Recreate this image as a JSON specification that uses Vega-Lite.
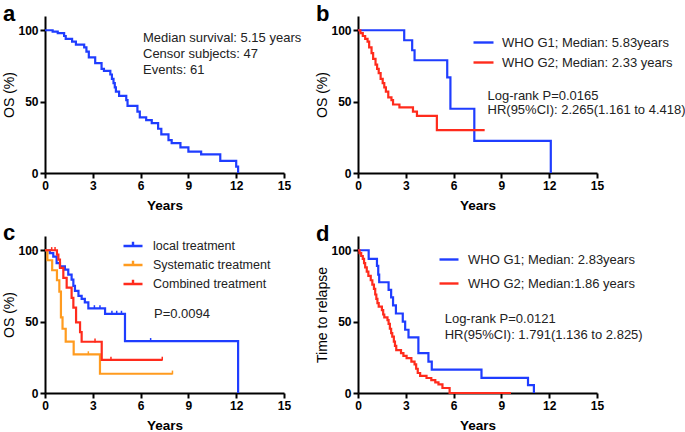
{
  "$schema": "https://vega.github.io/schema/vega-lite/v6.json",
  "padding": {"left": 2, "top": 3, "right": 0, "bottom": 0},
  "background": "white",
  "config": {
    "font": "Liberation Sans",
    "view": {"stroke": null},
    "axis": {"domainColor": "black", "domainWidth": 2, "tickColor": "black", "tickWidth": 2, "tickSize": 5, "grid": false, "labelFont": "Liberation Sans", "labelFontWeight": "bold", "labelFontSize": 12, "labelColor": "black", "titleColor": "black", "titleFont": "Liberation Sans", "labelPadding": 2, "labelFlush": false},
    "axisX": {"titleFontWeight": "bold", "titleFontSize": 13.5, "titlePadding": 7},
    "axisY": {"titleFontWeight": "normal", "titleFontSize": 14, "titlePadding": 1},
    "title": {"fontSize": 22, "fontWeight": "bold", "anchor": "start", "frame": "bounds", "color": "black", "font": "Liberation Sans", "offset": -10},
    "text": {"font": "Liberation Sans", "fontSize": 13, "color": "#222222", "align": "left", "baseline": "alphabetic"},
    "legend": {"labelFont": "Liberation Sans", "labelFontSize": 13, "labelColor": "#222222", "labelLimit": 0, "padding": 0, "symbolStrokeWidth": 2.4, "symbolType": "stroke", "orient": "none"}
  },
  "datasets": {
    "a": [
      {"time": 0, "os": 100}, {"time": 0.48, "os": 99}, {"time": 0.8, "os": 98}, {"time": 1.2, "os": 96}, {"time": 1.3, "os": 94}, {"time": 1.7, "os": 92}, {"time": 1.94, "os": 90}, {"time": 2.46, "os": 88}, {"time": 2.6, "os": 85}, {"time": 2.75, "os": 81}, {"time": 3.15, "os": 77}, {"time": 3.55, "os": 73}, {"time": 3.7, "os": 71.5}, {"time": 4.1, "os": 69}, {"time": 4.2, "os": 66}, {"time": 4.3, "os": 63}, {"time": 4.38, "os": 60}, {"time": 4.45, "os": 57}, {"time": 4.65, "os": 54}, {"time": 5.1, "os": 51}, {"time": 5.18, "os": 47}, {"time": 5.8, "os": 43}, {"time": 5.95, "os": 39}, {"time": 6.35, "os": 37}, {"time": 6.7, "os": 35}, {"time": 7.1, "os": 31}, {"time": 7.3, "os": 27}, {"time": 7.75, "os": 23}, {"time": 7.95, "os": 21}, {"time": 8.5, "os": 18}, {"time": 9.0, "os": 15}, {"time": 9.8, "os": 13}, {"time": 11.0, "os": 8.5}, {"time": 12.0, "os": 4.5}, {"time": 12.12, "os": 0}
    ],
    "b": [
      {"group": "WHO G1; Median: 5.83years", "time": 0, "os": 100}, {"group": "WHO G1; Median: 5.83years", "time": 2.9, "os": 93}, {"group": "WHO G1; Median: 5.83years", "time": 3.4, "os": 86}, {"group": "WHO G1; Median: 5.83years", "time": 3.55, "os": 79}, {"group": "WHO G1; Median: 5.83years", "time": 5.6, "os": 67}, {"group": "WHO G1; Median: 5.83years", "time": 5.8, "os": 45}, {"group": "WHO G1; Median: 5.83years", "time": 7.3, "os": 22.5}, {"group": "WHO G1; Median: 5.83years", "time": 12.1, "os": 0},
      {"group": "WHO G2; Median: 2.33 years", "time": 0, "os": 100}, {"group": "WHO G2; Median: 2.33 years", "time": 0.15, "os": 98}, {"group": "WHO G2; Median: 2.33 years", "time": 0.3, "os": 96}, {"group": "WHO G2; Median: 2.33 years", "time": 0.45, "os": 94}, {"group": "WHO G2; Median: 2.33 years", "time": 0.6, "os": 92}, {"group": "WHO G2; Median: 2.33 years", "time": 0.7, "os": 88}, {"group": "WHO G2; Median: 2.33 years", "time": 0.85, "os": 84}, {"group": "WHO G2; Median: 2.33 years", "time": 0.95, "os": 80}, {"group": "WHO G2; Median: 2.33 years", "time": 1.1, "os": 76}, {"group": "WHO G2; Median: 2.33 years", "time": 1.2, "os": 73}, {"group": "WHO G2; Median: 2.33 years", "time": 1.3, "os": 70}, {"group": "WHO G2; Median: 2.33 years", "time": 1.42, "os": 66}, {"group": "WHO G2; Median: 2.33 years", "time": 1.55, "os": 63}, {"group": "WHO G2; Median: 2.33 years", "time": 1.65, "os": 60}, {"group": "WHO G2; Median: 2.33 years", "time": 1.75, "os": 57}, {"group": "WHO G2; Median: 2.33 years", "time": 1.9, "os": 53}, {"group": "WHO G2; Median: 2.33 years", "time": 2.1, "os": 51}, {"group": "WHO G2; Median: 2.33 years", "time": 2.2, "os": 48}, {"group": "WHO G2; Median: 2.33 years", "time": 2.6, "os": 46}, {"group": "WHO G2; Median: 2.33 years", "time": 3.45, "os": 43}, {"group": "WHO G2; Median: 2.33 years", "time": 3.7, "os": 40}, {"group": "WHO G2; Median: 2.33 years", "time": 4.95, "os": 30}, {"group": "WHO G2; Median: 2.33 years", "time": 7.95, "os": 30}
    ],
    "c": [
      {"group": "local treatment", "time": 0, "os": 100}, {"group": "local treatment", "time": 0.3, "os": 98}, {"group": "local treatment", "time": 0.52, "os": 95.5}, {"group": "local treatment", "time": 0.73, "os": 91}, {"group": "local treatment", "time": 0.94, "os": 88.7}, {"group": "local treatment", "time": 1.25, "os": 86.4}, {"group": "local treatment", "time": 1.46, "os": 83}, {"group": "local treatment", "time": 1.67, "os": 79.5}, {"group": "local treatment", "time": 1.78, "os": 75}, {"group": "local treatment", "time": 1.88, "os": 71.5}, {"group": "local treatment", "time": 2.1, "os": 68}, {"group": "local treatment", "time": 2.3, "os": 66}, {"group": "local treatment", "time": 2.5, "os": 63.5}, {"group": "local treatment", "time": 2.72, "os": 59.3}, {"group": "local treatment", "time": 3.77, "os": 55.4}, {"group": "local treatment", "time": 5.02, "os": 36.3}, {"group": "local treatment", "time": 12.12, "os": 0},
      {"group": "Systematic treatment", "time": 0, "os": 100}, {"group": "Systematic treatment", "time": 0.15, "os": 93}, {"group": "Systematic treatment", "time": 0.45, "os": 86}, {"group": "Systematic treatment", "time": 0.75, "os": 79}, {"group": "Systematic treatment", "time": 0.9, "os": 71}, {"group": "Systematic treatment", "time": 1.0, "os": 53}, {"group": "Systematic treatment", "time": 1.1, "os": 45}, {"group": "Systematic treatment", "time": 1.3, "os": 36}, {"group": "Systematic treatment", "time": 1.8, "os": 27}, {"group": "Systematic treatment", "time": 3.45, "os": 13.5}, {"group": "Systematic treatment", "time": 8.0, "os": 13.5},
      {"group": "Combined treatment", "time": 0, "os": 100}, {"group": "Combined treatment", "time": 0.75, "os": 97}, {"group": "Combined treatment", "time": 0.84, "os": 93.4}, {"group": "Combined treatment", "time": 0.94, "os": 87.6}, {"group": "Combined treatment", "time": 1.15, "os": 80.7}, {"group": "Combined treatment", "time": 1.36, "os": 73.8}, {"group": "Combined treatment", "time": 1.67, "os": 66.7}, {"group": "Combined treatment", "time": 1.78, "os": 59.8}, {"group": "Combined treatment", "time": 1.95, "os": 49.5}, {"group": "Combined treatment", "time": 2.2, "os": 42.7}, {"group": "Combined treatment", "time": 2.3, "os": 35.9}, {"group": "Combined treatment", "time": 3.56, "os": 23.2}, {"group": "Combined treatment", "time": 7.36, "os": 23.2}
    ],
    "cCensor": [
      {"group": "local treatment", "time": 3.1, "os": 59.3}, {"group": "local treatment", "time": 3.45, "os": 59.3}, {"group": "local treatment", "time": 4.2, "os": 55.4}, {"group": "local treatment", "time": 4.5, "os": 55.4}, {"group": "local treatment", "time": 4.8, "os": 55.4}, {"group": "local treatment", "time": 6.63, "os": 36.3},
      {"group": "Systematic treatment", "time": 2.72, "os": 27}, {"group": "Systematic treatment", "time": 8.0, "os": 13.5},
      {"group": "Combined treatment", "time": 0.42, "os": 100}, {"group": "Combined treatment", "time": 0.63, "os": 100}, {"group": "Combined treatment", "time": 3.14, "os": 35.9}, {"group": "Combined treatment", "time": 4.14, "os": 23.2}, {"group": "Combined treatment", "time": 7.36, "os": 23.2}
    ],
    "d": [
      {"group": "WHO G1; Median: 2.83years", "time": 0, "os": 100}, {"group": "WHO G1; Median: 2.83years", "time": 0.67, "os": 94}, {"group": "WHO G1; Median: 2.83years", "time": 1.19, "os": 89}, {"group": "WHO G1; Median: 2.83years", "time": 1.27, "os": 83}, {"group": "WHO G1; Median: 2.83years", "time": 1.33, "os": 77.6}, {"group": "WHO G1; Median: 2.83years", "time": 1.92, "os": 72.3}, {"group": "WHO G1; Median: 2.83years", "time": 2.08, "os": 67}, {"group": "WHO G1; Median: 2.83years", "time": 2.2, "os": 61.4}, {"group": "WHO G1; Median: 2.83years", "time": 2.38, "os": 55.7}, {"group": "WHO G1; Median: 2.83years", "time": 2.81, "os": 50}, {"group": "WHO G1; Median: 2.83years", "time": 2.96, "os": 44.3}, {"group": "WHO G1; Median: 2.83years", "time": 3.17, "os": 39}, {"group": "WHO G1; Median: 2.83years", "time": 3.79, "os": 28}, {"group": "WHO G1; Median: 2.83years", "time": 4.42, "os": 22}, {"group": "WHO G1; Median: 2.83years", "time": 4.63, "os": 16.4}, {"group": "WHO G1; Median: 2.83years", "time": 7.75, "os": 10.6}, {"group": "WHO G1; Median: 2.83years", "time": 10.67, "os": 5.5}, {"group": "WHO G1; Median: 2.83years", "time": 11.04, "os": 0},
      {"group": "WHO G2; Median:1.86 years", "time": 0, "os": 100}, {"group": "WHO G2; Median:1.86 years", "time": 0.1, "os": 98}, {"group": "WHO G2; Median:1.86 years", "time": 0.2, "os": 96}, {"group": "WHO G2; Median:1.86 years", "time": 0.3, "os": 94}, {"group": "WHO G2; Median:1.86 years", "time": 0.38, "os": 91}, {"group": "WHO G2; Median:1.86 years", "time": 0.45, "os": 88}, {"group": "WHO G2; Median:1.86 years", "time": 0.55, "os": 85}, {"group": "WHO G2; Median:1.86 years", "time": 0.65, "os": 82}, {"group": "WHO G2; Median:1.86 years", "time": 0.8, "os": 79}, {"group": "WHO G2; Median:1.86 years", "time": 0.9, "os": 76}, {"group": "WHO G2; Median:1.86 years", "time": 1.0, "os": 73}, {"group": "WHO G2; Median:1.86 years", "time": 1.08, "os": 69}, {"group": "WHO G2; Median:1.86 years", "time": 1.15, "os": 66}, {"group": "WHO G2; Median:1.86 years", "time": 1.22, "os": 63}, {"group": "WHO G2; Median:1.86 years", "time": 1.3, "os": 60.5}, {"group": "WHO G2; Median:1.86 years", "time": 1.5, "os": 58}, {"group": "WHO G2; Median:1.86 years", "time": 1.58, "os": 55}, {"group": "WHO G2; Median:1.86 years", "time": 1.65, "os": 53}, {"group": "WHO G2; Median:1.86 years", "time": 1.85, "os": 51}, {"group": "WHO G2; Median:1.86 years", "time": 1.92, "os": 48.5}, {"group": "WHO G2; Median:1.86 years", "time": 2.0, "os": 45}, {"group": "WHO G2; Median:1.86 years", "time": 2.08, "os": 42}, {"group": "WHO G2; Median:1.86 years", "time": 2.15, "os": 39.5}, {"group": "WHO G2; Median:1.86 years", "time": 2.25, "os": 36}, {"group": "WHO G2; Median:1.86 years", "time": 2.32, "os": 33}, {"group": "WHO G2; Median:1.86 years", "time": 2.4, "os": 30}, {"group": "WHO G2; Median:1.86 years", "time": 2.7, "os": 28}, {"group": "WHO G2; Median:1.86 years", "time": 2.85, "os": 26}, {"group": "WHO G2; Median:1.86 years", "time": 3.05, "os": 24.5}, {"group": "WHO G2; Median:1.86 years", "time": 3.35, "os": 22}, {"group": "WHO G2; Median:1.86 years", "time": 3.55, "os": 20}, {"group": "WHO G2; Median:1.86 years", "time": 3.65, "os": 17}, {"group": "WHO G2; Median:1.86 years", "time": 3.75, "os": 14}, {"group": "WHO G2; Median:1.86 years", "time": 3.9, "os": 12}, {"group": "WHO G2; Median:1.86 years", "time": 4.3, "os": 10.5}, {"group": "WHO G2; Median:1.86 years", "time": 4.6, "os": 9}, {"group": "WHO G2; Median:1.86 years", "time": 4.85, "os": 7.5}, {"group": "WHO G2; Median:1.86 years", "time": 5.05, "os": 6}, {"group": "WHO G2; Median:1.86 years", "time": 5.3, "os": 3.5}, {"group": "WHO G2; Median:1.86 years", "time": 5.75, "os": 0}, {"group": "WHO G2; Median:1.86 years", "time": 9.6, "os": 0}
    ]
  },
  "columns": 2,
  "bounds": "flush",
  "spacing": {"row": 63, "column": 74},
  "resolve": {"scale": {"color": "independent", "x": "independent", "y": "independent"}, "legend": {"color": "independent"}},
  "concat": [
    {
      "width": 239, "height": 157,
      "title": {"text": "a"},
      "layer": [
        {
          "data": {"name": "a"},
          "mark": {"type": "line", "interpolate": "step-after", "strokeWidth": 2.2, "color": "#1f3dff"},
          "encoding": {
            "x": {"field": "time", "type": "quantitative", "scale": {"domain": [0, 15], "nice": false}, "axis": {"title": "Years", "values": [0, 3, 6, 9, 12, 15]}},
            "y": {"field": "os", "type": "quantitative", "scale": {"domain": [0, 110], "nice": false}, "axis": {"title": "OS (%)", "values": [0, 50, 100]}}
          }
        },
        {
          "data": {"values": [{}]},
          "mark": {"type": "text", "lineHeight": 16},
          "encoding": {"x": {"datum": 6.15}, "y": {"datum": 92}, "text": {"value": ["Median survival: 5.15 years", "Censor subjects: 47", "Events: 61"]}}
        }
      ]
    },
    {
      "width": 239, "height": 157,
      "title": {"text": "b"},
      "layer": [
        {
          "data": {"name": "b"},
          "mark": {"type": "line", "interpolate": "step-after", "strokeWidth": 2.2},
          "encoding": {
            "x": {"field": "time", "type": "quantitative", "scale": {"domain": [0, 15], "nice": false}, "axis": {"title": "Years", "values": [0, 3, 6, 9, 12, 15]}},
            "y": {"field": "os", "type": "quantitative", "scale": {"domain": [0, 110], "nice": false}, "axis": {"title": "OS (%)", "values": [0, 50, 100]}},
            "color": {"field": "group", "type": "nominal", "scale": {"domain": ["WHO G1; Median: 5.83years", "WHO G2; Median: 2.33 years"], "range": ["#1f3dff", "#ff2b1c"]}, "legend": {"title": null, "legendX": 114, "legendY": 15, "symbolSize": 400, "rowPadding": 1, "labelOffset": 7}}
          }
        },
        {
          "data": {"values": [{}]},
          "mark": {"type": "text", "lineHeight": 14.5},
          "encoding": {"x": {"datum": 8.13}, "y": {"datum": 51.2}, "text": {"value": ["Log-rank P=0.0165", "HR(95%CI): 2.265(1.161 to 4.418)"]}}
        }
      ]
    },
    {
      "width": 239, "height": 157,
      "title": {"text": "c"},
      "layer": [
        {
          "data": {"name": "c"},
          "mark": {"type": "line", "interpolate": "step-after", "strokeWidth": 2.2},
          "encoding": {
            "x": {"field": "time", "type": "quantitative", "scale": {"domain": [0, 15], "nice": false}, "axis": {"title": "Years", "values": [0, 3, 6, 9, 12, 15]}},
            "y": {"field": "os", "type": "quantitative", "scale": {"domain": [0, 110], "nice": false}, "axis": {"title": "OS (%)", "values": [0, 50, 100]}},
            "color": {"field": "group", "type": "nominal", "scale": {"domain": ["local treatment", "Systematic treatment", "Combined treatment"], "range": ["#1f3dff", "#ff9b1f", "#ff2b1c"]}, "legend": {"title": null, "legendX": 77, "legendY": -1, "symbolSize": 361, "rowPadding": 1, "labelOffset": 9, "labelFontSize": 12.5, "symbolType": "M-1,0H1M0,-0.45V0"}}
          }
        },
        {
          "data": {"name": "cCensor"},
          "mark": {"type": "point", "shape": "M0,-1V0.2", "size": 40, "filled": false, "strokeWidth": 1.5, "opacity": 1},
          "encoding": {
            "x": {"field": "time", "type": "quantitative"},
            "y": {"field": "os", "type": "quantitative"},
            "color": {"field": "group", "type": "nominal", "legend": null}
          }
        },
        {
          "data": {"values": [{}]},
          "mark": {"type": "text"},
          "encoding": {"x": {"datum": 6.84}, "y": {"datum": 52.8}, "text": {"value": "P=0.0094"}}
        }
      ]
    },
    {
      "width": 239, "height": 157,
      "title": {"text": "d"},
      "layer": [
        {
          "data": {"name": "d"},
          "mark": {"type": "line", "interpolate": "step-after", "strokeWidth": 2.2},
          "encoding": {
            "x": {"field": "time", "type": "quantitative", "scale": {"domain": [0, 15], "nice": false}, "axis": {"title": "Years", "values": [0, 3, 6, 9, 12, 15]}},
            "y": {"field": "os", "type": "quantitative", "scale": {"domain": [0, 110], "nice": false}, "axis": {"title": "Time to relapse", "values": [0, 50, 100]}},
            "color": {"field": "group", "type": "nominal", "scale": {"domain": ["WHO G1; Median: 2.83years", "WHO G2; Median:1.86 years"], "range": ["#1f3dff", "#ff2b1c"]}, "legend": {"title": null, "legendX": 80, "legendY": 12.5, "symbolSize": 361, "rowPadding": 6, "labelOffset": 8}}
          }
        },
        {
          "data": {"values": [{}]},
          "mark": {"type": "text", "lineHeight": 16.5},
          "encoding": {"x": {"datum": 5.44}, "y": {"datum": 49.3}, "text": {"value": ["Log-rank P=0.0121", "HR(95%CI): 1.791(1.136 to 2.825)"]}}
        }
      ]
    }
  ]
}
